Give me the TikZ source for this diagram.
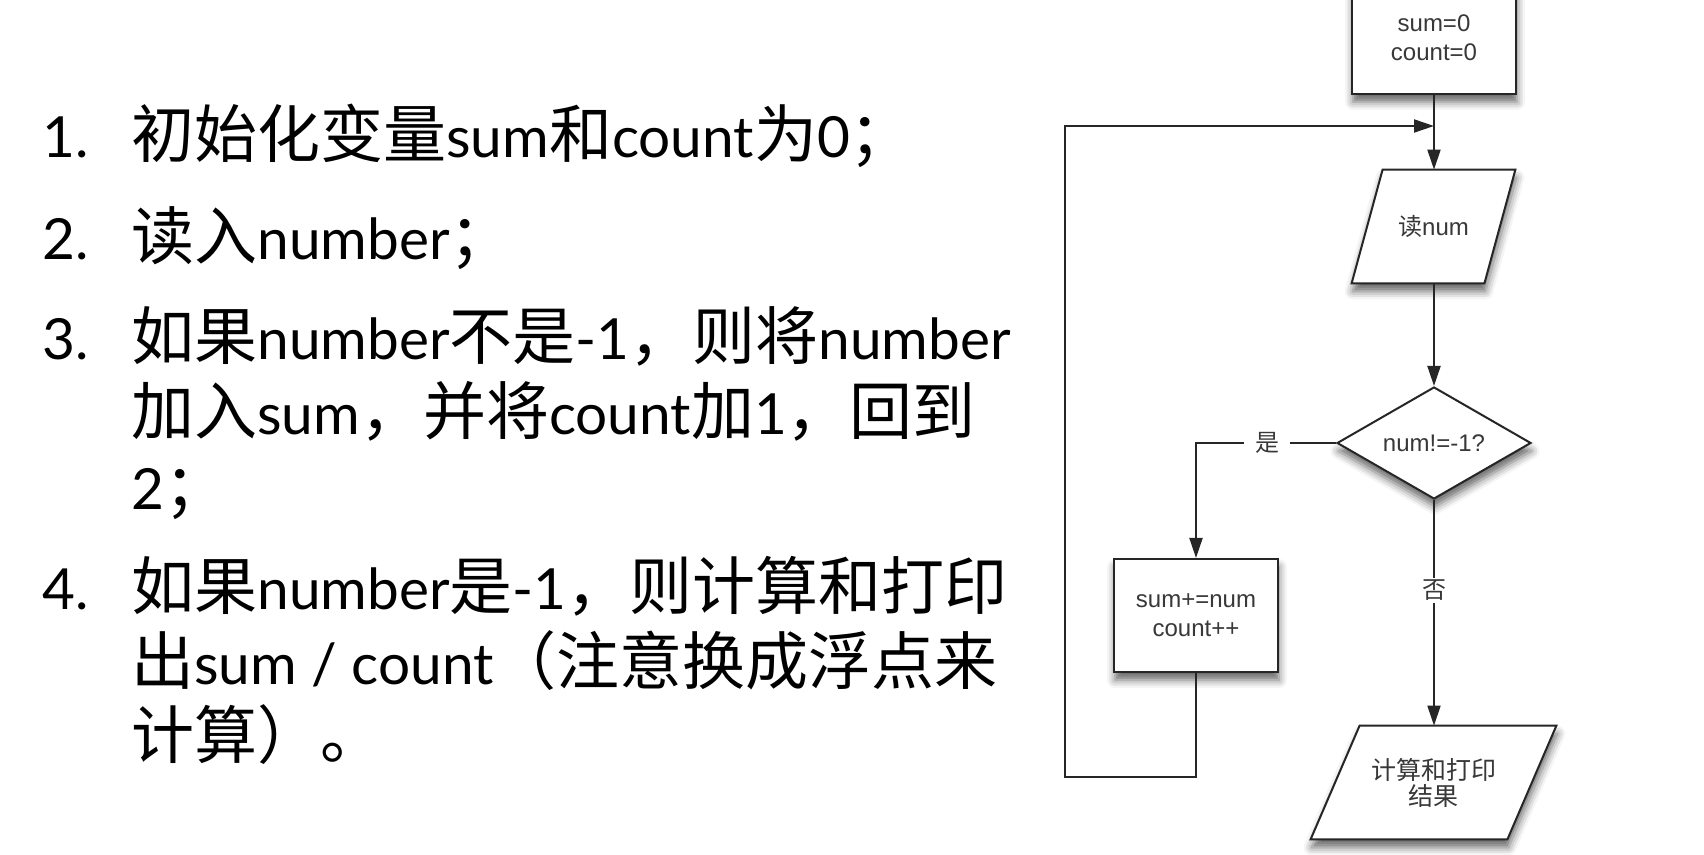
\documentclass[tikz,border=0pt]{standalone}
\usepackage{fontspec}
\setmainfont{Lato}[Scale=0.9]
\newfontfamily\cjk{Noto Sans CJK SC}
\newfontfamily\fsans{Liberation Sans}
\usetikzlibrary{arrows.meta,shadows.blur,calc,shapes.geometric,backgrounds}
\newcommand{\zh}[1]{{\cjk #1}}
\definecolor{lc}{HTML}{262626}
\definecolor{tc}{HTML}{383838}
\begin{document}
\begin{tikzpicture}[x=0.5pt,y=-0.5pt,
  lt/.style={anchor=base west,inner sep=0pt,text=black,font=\fontsize{31.5pt}{31.5pt}\selectfont},
  shd/.style={blur shadow={shadow xshift=0.5pt,shadow yshift=-4pt,shadow blur radius=4pt,shadow opacity=60}},
  box/.style={draw=lc,line width=1pt,fill=white,minimum width=82pt,minimum height=56.5pt,inner sep=0pt,align=center,text=tc,font=\fsans\fontsize{12pt}{14.5pt}\selectfont,shd},
  decbox/.style={diamond,draw=lc,line width=1pt,fill=white,minimum width=97pt,minimum height=56pt,aspect=1.73,inner sep=0pt,text=tc,font=\fsans\fontsize{12pt}{14.5pt}\selectfont,shd},
  pnode/.style={draw=none,minimum height=56.5pt,inner sep=0pt,align=center,text=tc,font=\fsans\fontsize{12pt}{14.5pt}\selectfont},
  pshape/.style={draw=lc,line width=1pt,fill=white,line join=miter,shd},
  conn/.style={draw=lc,line width=1pt},
  arr/.style={conn,-{Triangle[length=10pt,width=6.5pt]}},
  lab/.style={fill=white,inner xsep=5.5pt,inner ysep=1pt,text=tc,font=\cjk\fontsize{12pt}{12pt}\selectfont}
]
\useasboundingbox (0,0) rectangle (1704,855);
\clip (0,0) rectangle (1704,855);

% ---- left text ----
\node[lt] (n1) at (42,158) {1.};
\node[lt] (t1) at (131,158) {\zh{初始化变量}sum\zh{和}count\zh{为}0\zh{；}};
\node[lt] (n2) at (42,260) {2.};
\node[lt] (t2) at (131,260) {\zh{读入}number\zh{；}};
\node[lt] (n3) at (42,360) {3.};
\node[lt] (t3a) at (131,360) {\zh{如果}number\zh{不是}-1\zh{，则将}number};
\node[lt] (t3b) at (131,435) {\zh{加入}sum\zh{，并将}count\zh{加}1\zh{，回到}};
\node[lt] (t3c) at (131,510) {2\zh{；}};
\node[lt] (n4) at (42,610) {4.};
\node[lt] (t4a) at (131,610) {\zh{如果}number\zh{是}-1\zh{，则计算和打印}};
\node[lt] (t4b) at (131,684) {\zh{出}sum / count\zh{（注意换成浮点来}};
\node[lt] (t4c) at (131,758) {\zh{计算）。}};

% ---- flowchart ----
\node[box] (init) at (1434,37.5) {sum=0\\count=0};
\node[pnode,minimum width=81.5pt] (read) at (1433.5,226.5) {\zh{读}num};
\node[decbox] (dec) at (1434,443) {num!=-1?};
\node[box] (proc) at (1196,615.5) {sum+=num\\count++};
\node[pnode,minimum width=122.5pt,font=\cjk\fontsize{12.5pt}{13pt}\selectfont] (out) at (1433.5,782.5) {计算和打印\\结果};

\begin{scope}[on background layer]
  \draw[pshape] ($(read.north west)+(31,0)$) -- (read.north east) -- ($(read.south east)+(-31,0)$) -- (read.south west) -- cycle;
  \draw[pshape] ($(out.north west)+(49,0)$) -- (out.north east) -- ($(out.south east)+(-49,0)$) -- (out.south west) -- cycle;
\end{scope}

\coordinate (loopBL) at (1065,777);
\coordinate (loopTL) at (1065,126);

\draw[arr] (init.south) -- (init.south |- read.north);
\draw[arr] (proc.south) |- (loopBL) -- (loopTL) -- (loopTL -| init.south);
\draw[arr] (read.south -| dec.north) -- (dec.north);
\draw[arr] (dec.west) -| node[lab,pos=0.246] {是} (proc.north);
\draw[arr] (dec.south) -- node[lab,pos=0.40] {否} (dec.south |- out.north);
\end{tikzpicture}
\end{document}
